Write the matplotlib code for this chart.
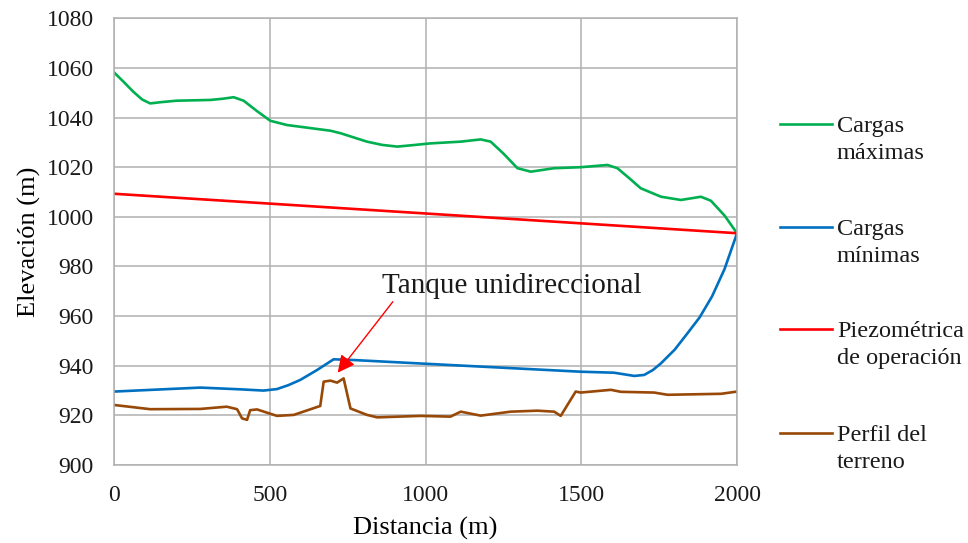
import matplotlib.pyplot as plt
from matplotlib.lines import Line2D

# datos
x_max = [0, 30, 62, 90, 116, 150, 201, 309, 350, 384, 416, 460, 502, 555, 695,
         727, 812, 860, 909, 960, 1016, 1113, 1177, 1209, 1250, 1295, 1338,
         1413, 1498, 1584, 1616, 1650, 1691, 1756, 1820, 1884, 1916, 1960, 2000]
y_max = [1058.2, 1054.5, 1050.4, 1047.3, 1045.7, 1046.2, 1046.8, 1047.1, 1047.6,
         1048.2, 1046.8, 1042.5, 1038.7, 1037.0, 1034.7, 1033.7, 1030.3, 1029.0,
         1028.3, 1028.9, 1029.6, 1030.3, 1031.2, 1030.3, 1025.5, 1019.6, 1018.2,
         1019.6, 1020.0, 1020.9, 1019.6, 1016.0, 1011.5, 1008.1, 1006.8, 1008.1,
         1006.5, 1000.5, 993.4]

x_min = [0, 277, 405, 480, 523, 560, 598, 652, 705, 770, 1016, 1498, 1605,
         1670, 1702, 1730, 1756, 1800, 1841, 1880, 1920, 1960, 2000]
y_min = [929.6, 931.2, 930.5, 930.0, 930.6, 932.2, 934.3, 938.3, 942.6, 942.3,
         940.7, 937.6, 937.2, 935.9, 936.3, 938.3, 941.0, 946.5, 953.1, 959.5,
         968.0, 979.0, 993.4]

x_piezo = [0, 2000]
y_piezo = [1009.3, 993.4]

x_terr = [0, 116, 277, 362, 395, 411, 427, 437, 459, 523, 577, 662, 673, 695,
          716, 737, 759, 812, 845, 984, 1080, 1113, 1177, 1273, 1359, 1413,
          1434, 1482, 1498, 1595, 1627, 1734, 1777, 1949, 2000]
y_terr = [924.2, 922.5, 922.6, 923.5, 922.5, 918.8, 918.2, 922.1, 922.4, 919.8,
          920.2, 923.8, 933.6, 934.0, 933.2, 934.9, 922.8, 920.2, 919.2, 919.8,
          919.5, 921.5, 919.9, 921.5, 921.9, 921.5, 919.8, 929.6, 929.2, 930.3,
          929.5, 929.2, 928.3, 928.7, 929.6]

series = [
    ("Cargas\nmáximas", x_max, y_max, "#00b050"),
    ("Cargas\nmínimas", x_min, y_min, "#0070c0"),
    ("Piezométrica\nde operación", x_piezo, y_piezo, "#ff0000"),
    ("Perfil del\nterreno", x_terr, y_terr, "#984807"),
]

plt.rcParams['font.family'] = ['Liberation Serif', 'DejaVu Serif']

fig = plt.figure(figsize=(9.68, 5.43), dpi=100)
ax = fig.add_axes([0.1178, 0.1436, 0.6436, 0.8227])

for label, xs, ys, col in series:
    ax.plot(xs, ys, color=col, lw=1.9, solid_joinstyle='round')

ax.set_xlim(0, 2000)
ax.set_ylim(900, 1080)
ax.set_xticks(range(0, 2001, 500))
ax.set_yticks(range(900, 1081, 20))
ax.grid(True, color='#b0b0b0', lw=1.1)
for s in ax.spines.values():
    s.set_color('#b0b0b0')
    s.set_linewidth(1.1)
ax.tick_params(length=0, labelsize=17, pad=14.5, labelcolor='#1a1a1a')
ax.set_xlabel('Distancia (m)', fontsize=19, labelpad=8)
ax.set_ylabel('Elevación (m)', fontsize=19, labelpad=4)

# anotacion del tanque
ax.text(861, 969.2, 'Tanque unidireccional', fontsize=21, ha='left',
        va='baseline', color='#1a1a1a')
ax.annotate('', xy=(718, 937.2), xytext=(895, 965.8),
            arrowprops=dict(arrowstyle='-|>', color='#ff0000', lw=1,
                            mutation_scale=26, shrinkA=0, shrinkB=0))

# leyenda manual
leg_y = [124, 227, 329, 433]
for (label, xs, ys, col), py in zip(series, leg_y):
    yf = 1 - py / 543
    fig.add_artist(Line2D([780 / 968, 832 / 968], [yf, yf], color=col, lw=1.9))
    for k, line in enumerate(label.split('\n')):
        fig.text(837 / 968, 1 - (py + 7.7 + 27.6 * k) / 543, line,
                 fontsize=17.5, va='baseline', ha='left', color='#1a1a1a')

fig.savefig('out.png', dpi=100)
